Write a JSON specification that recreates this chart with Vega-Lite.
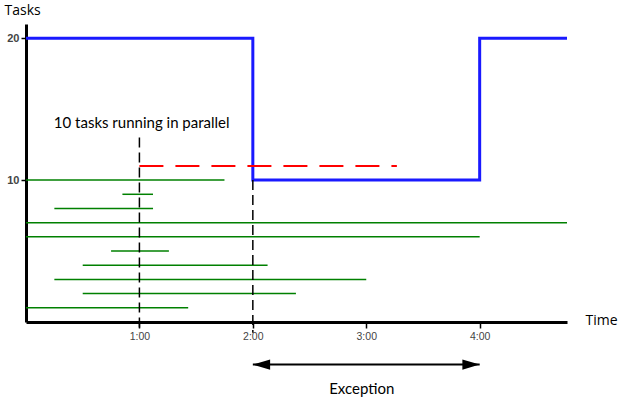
{
  "$schema": "https://vega.github.io/schema/vega-lite/v6.json",
  "width": 541,
  "height": 298,
  "autosize": "none",
  "padding": {"left": 26, "top": 24, "right": 54, "bottom": 77},
  "background": "white",
  "config": {
    "view": {"stroke": null},
    "axis": {"grid": false, "domainColor": "black", "domainWidth": 3, "tickColor": "black", "labelColor": "#444444", "labelFont": "Liberation Sans", "titleFont": "Open Sans", "titleFontWeight": "normal", "titleColor": "black", "titleFontSize": 14}
  },
  "datasets": {
    "tasks": [
      {"start": 0, "end": 1.75, "y": 10},
      {"start": 0.85, "end": 1.12, "y": 9},
      {"start": 0.25, "end": 1.12, "y": 8},
      {"start": 0, "end": 4.77, "y": 7},
      {"start": 0, "end": 4.0, "y": 6},
      {"start": 0.75, "end": 1.26, "y": 5},
      {"start": 0.5, "end": 2.13, "y": 4},
      {"start": 0.25, "end": 3.0, "y": 3},
      {"start": 0.5, "end": 2.38, "y": 2},
      {"start": 0, "end": 1.43, "y": 1}
    ],
    "capacity": [
      {"t": 0, "n": 20},
      {"t": 2, "n": 10},
      {"t": 4, "n": 20},
      {"t": 4.77, "n": 20}
    ],
    "limit": [{"start": 1, "end": 3.27, "y": 11}],
    "marks": [
      {"t": 1, "y": 13, "y2": -0.75},
      {"t": 2, "y": 10, "y2": -0.75}
    ],
    "span": [{"start": 2, "end": 4, "y": -3}],
    "heads": [
      {"t": 2, "y": -3, "dir": "left"},
      {"t": 4, "y": -3, "dir": "right"}
    ],
    "notes": [
      {"t": 1.02, "y": 14.02, "label": "10 tasks running in parallel"},
      {"t": 2.96, "y": -4.7, "label": "Exception"}
    ]
  },
  "layer": [
    {
      "data": {"name": "tasks"},
      "mark": {"type": "rule", "color": "#008000", "strokeWidth": 1.5},
      "encoding": {
        "x": {"field": "start", "type": "quantitative",
              "scale": {"domain": [0, 4.77], "nice": false, "zero": false},
              "axis": {"values": [1, 2, 3, 4], "labelExpr": "datum.value + ':00'", "tickSize": 6, "tickWidth": 1.5, "labelFontSize": 10.5, "labelPadding": 3,
                       "title": "Time", "titleAngle": 0, "titleAlign": "left", "titleBaseline": "middle", "titleX": 559, "titleY": -2}},
        "x2": {"field": "end"},
        "y": {"field": "y", "type": "quantitative",
              "scale": {"domain": [0, 21], "nice": false, "zero": true},
              "axis": {"values": [10, 20], "tickSize": 5, "tickWidth": 1.5, "labelFontSize": 11, "labelFontWeight": "bold", "labelPadding": 2,
                       "title": "Tasks", "titleAngle": 0, "titleAlign": "left", "titleBaseline": "middle", "titleX": -22, "titleY": -14}}
      }
    },
    {
      "data": {"name": "capacity"},
      "mark": {"type": "line", "color": "#1a1aff", "strokeWidth": 3, "interpolate": "step-after"},
      "encoding": {
        "x": {"field": "t", "type": "quantitative"},
        "y": {"field": "n", "type": "quantitative"}
      }
    },
    {
      "data": {"name": "limit"},
      "mark": {"type": "rule", "color": "#ff0000", "strokeWidth": 2, "strokeDash": [24, 12]},
      "encoding": {
        "x": {"field": "start", "type": "quantitative"},
        "x2": {"field": "end"},
        "y": {"field": "y", "type": "quantitative"}
      }
    },
    {
      "data": {"name": "marks"},
      "mark": {"type": "rule", "color": "black", "strokeWidth": 1.5, "strokeDash": [10, 5]},
      "encoding": {
        "x": {"field": "t", "type": "quantitative"},
        "y": {"field": "y", "type": "quantitative"},
        "y2": {"field": "y2"}
      }
    },
    {
      "data": {"name": "span"},
      "mark": {"type": "rule", "color": "black", "strokeWidth": 2},
      "encoding": {
        "x": {"field": "start", "type": "quantitative"},
        "x2": {"field": "end"},
        "y": {"field": "y", "type": "quantitative"}
      }
    },
    {
      "data": {"name": "heads"},
      "mark": {"type": "point", "filled": true, "color": "black", "opacity": 1, "size": 300},
      "encoding": {
        "x": {"field": "t", "type": "quantitative"},
        "y": {"field": "y", "type": "quantitative"},
        "shape": {"field": "dir", "type": "nominal",
                  "scale": {"domain": ["left", "right"], "range": ["M 0 0 L 2 -0.6 L 2 0.6 Z", "M 0 0 L -2 -0.6 L -2 0.6 Z"]},
                  "legend": null}
      }
    },
    {
      "data": {"name": "notes"},
      "mark": {"type": "text", "font": "Lato", "fontSize": 15, "color": "black", "align": "center", "baseline": "middle"},
      "encoding": {
        "x": {"field": "t", "type": "quantitative"},
        "y": {"field": "y", "type": "quantitative"},
        "text": {"field": "label"}
      }
    }
  ]
}
